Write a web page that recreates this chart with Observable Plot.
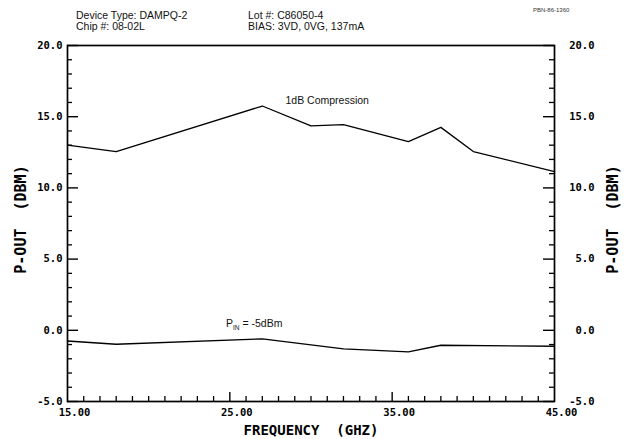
<!DOCTYPE html>
<html><head><meta charset="utf-8">
<script src="https://cdn.jsdelivr.net/npm/d3@7"></script>
<script src="https://cdn.jsdelivr.net/npm/@observablehq/plot@0.6"></script>
<style>
body{margin:0;background:#fff;}
#wrap{position:relative;width:626px;height:439px;overflow:hidden;}
.hdr{position:absolute;font-family:"Liberation Sans",Arial,sans-serif;font-size:10.5px;color:#111;white-space:nowrap;line-height:1;}
.tiny{font-size:6px;color:#333;}
</style></head><body><div id="wrap"></div>
<script>
// ---- data ----
const compFreq = [15, 18, 27, 30, 32, 36, 38, 40, 45];
const compPout = [13.0, 12.55, 15.75, 14.35, 14.45, 13.25, 14.25, 12.55, 11.15];
const pinFreq  = [15, 18, 27, 32, 36, 38, 45];
const pinPout  = [-0.75, -0.98, -0.6, -1.3, -1.52, -1.05, -1.12];
const yLabels  = [-5, 0, 5, 10, 15, 20];
const yMinor   = d3.range(-4, 20).filter(v => v % 5 !== 0);
const xLabels  = [15, 25, 35, 45];
const xMajor   = [25, 35];
const xMinor   = d3.range(16, 45).filter(v => v !== 25 && v !== 35);
const headerLeft  = ["Device Type: DAMPQ-2", "Chip #: 08-02L"];
const headerRight = ["Lot #: C86050-4", "BIAS: 3VD, 0VG, 137mA"];
const docId = "PBN-86-1360";
const xTitle = "FREQUENCY\u00a0\u00a0(GHZ)";
const yTitle = "P-OUT\u00a0\u00a0(DBM)";
const notes = [
  {x: 31.0, y: 16.1, text: "1dB Compression", anchor: "middle"},
  {x: 26.5, y: 0.5, text: "PIN = -5dBm", anchor: "start"}
];

const comp = compFreq.map((f, i) => ({f, v: compPout[i]}));
const pin  = pinFreq.map((f, i) => ({f, v: pinPout[i]}));

// ---- layout ----
const W = 626, H = 439, ML = 67, MR = 72, MT = 45, MB = 38;
const FW = W - ML - MR, FH = H - MT - MB;
const mono = "DejaVu Sans Mono";
const sans = "Liberation Sans, Arial, sans-serif";

const chart = Plot.plot({
  width: W, height: H,
  marginLeft: ML, marginRight: MR, marginTop: MT, marginBottom: MB,
  x: {domain: [15, 45], axis: null},
  y: {domain: [-5, 20], axis: null},
  style: {background: "transparent", color: "black", overflow: "visible"},
  marks: [
    // inward ticks left / right
    Plot.tickY(yMinor, {y: d => d, insetRight: FW - 5, stroke: "black", strokeWidth: 1.3}),
    Plot.tickY(yMinor, {y: d => d, insetLeft: FW - 5, stroke: "black", strokeWidth: 1.3}),
    Plot.tickY(yLabels, {y: d => d, insetRight: FW - 11, stroke: "black", strokeWidth: 1.4}),
    Plot.tickY(yLabels, {y: d => d, insetLeft: FW - 11, stroke: "black", strokeWidth: 1.4}),
    // bottom ticks
    Plot.tickX(xMinor, {x: d => d, insetTop: FH - 5, stroke: "black", strokeWidth: 1.3}),
    Plot.tickX(xMajor, {x: d => d, insetTop: FH - 9, stroke: "black", strokeWidth: 1.4}),
    Plot.frame({stroke: "black", strokeWidth: 1.7}),
    // data
    Plot.line(comp, {x: "f", y: "v", stroke: "black", strokeWidth: 1.3}),
    Plot.line(pin, {x: "f", y: "v", stroke: "black", strokeWidth: 1.3}),
    // tick labels
    Plot.text(yLabels, {y: d => d, text: d => d.toFixed(1), frameAnchor: "left", textAnchor: "end", dx: -5,
      fontFamily: mono, fontWeight: "bold", fontSize: 10.5, fill: "black"}),
    Plot.text(yLabels, {y: d => d, text: d => d.toFixed(1), frameAnchor: "right", textAnchor: "end", dx: 40,
      fontFamily: mono, fontWeight: "bold", fontSize: 10.5, fill: "black"}),
    Plot.text(xLabels, {x: d => d, text: d => d.toFixed(2), frameAnchor: "bottom", lineAnchor: "top", dy: 7, dx: 7,
      fontFamily: mono, fontWeight: "bold", fontSize: 10.5, fill: "black"}),
    // axis titles
    Plot.text([xTitle], {text: d => d, frameAnchor: "bottom", lineAnchor: "top", dy: 24,
      fontFamily: mono, fontWeight: "bold", fontSize: 14, fill: "black"}),
    Plot.text([yTitle], {text: d => d, frameAnchor: "left", textAnchor: "middle", rotate: -90, dx: -46, dy: -4,
      fontFamily: mono, fontWeight: "bold", fontSize: 15, fill: "black"}),
    Plot.text([yTitle], {text: d => d, frameAnchor: "right", textAnchor: "middle", rotate: -90, dx: 59, dy: -4,
      fontFamily: mono, fontWeight: "bold", fontSize: 15, fill: "black"}),
    // annotations
    Plot.text(notes, {x: "x", y: "y", text: "text", textAnchor: d => d.anchor,
      fontFamily: sans, fontSize: 10.5, fill: "#111"})
  ]
});

const wrap = document.getElementById("wrap");
wrap.appendChild(chart);

// subscript for P_IN
chart.querySelectorAll("text").forEach(t => {
  if (t.textContent === "PIN = -5dBm") {
    t.textContent = "";
    const ns = "http://www.w3.org/2000/svg";
    const a = document.createElementNS(ns, "tspan"); a.textContent = "P";
    const b = document.createElementNS(ns, "tspan"); b.textContent = "IN";
    b.setAttribute("font-size", "6.5"); b.setAttribute("dy", "3");
    const c = document.createElementNS(ns, "tspan"); c.textContent = "\u00a0= -5dBm";
    c.setAttribute("dy", "-3");
    t.append(a, b, c);
  }
});

// header
function addHdr(txt, left, top, cls) {
  const d = document.createElement("div");
  d.className = "hdr" + (cls ? " " + cls : "");
  d.style.left = left + "px"; d.style.top = top + "px";
  d.textContent = txt;
  wrap.appendChild(d);
}
addHdr(headerLeft[0], 76, 10);
addHdr(headerLeft[1], 76, 21);
addHdr(headerRight[0], 248, 10);
addHdr(headerRight[1], 248, 21);
addHdr(docId, 533, 7, "tiny");
</script>
</body></html>
